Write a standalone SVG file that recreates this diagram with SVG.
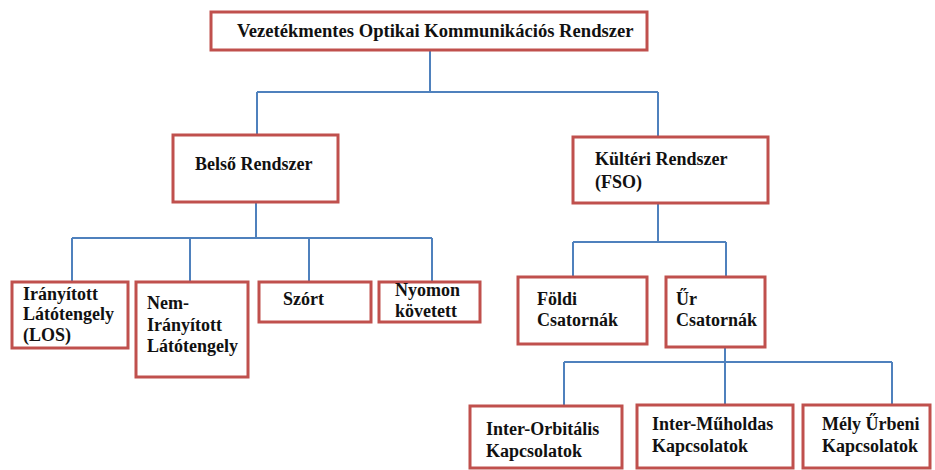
<svg xmlns="http://www.w3.org/2000/svg" width="935" height="470" viewBox="0 0 935 470">
<style>
.box{fill:#fff;stroke:#c0504d;stroke-width:3}
.t{font-family:'Liberation Serif','Tinos','DejaVu Serif',serif;font-weight:700;font-size:18px;fill:#111}
.c{fill:none;stroke:#4f81bd;stroke-width:2}
</style>
<rect width="935" height="470" fill="#fff"/>
<g id="connectors">
<path class="c" d="M430,50V92M257,92H658M257,92V135M658,92V137"/>
<path class="c" d="M256,202V238M72,238H432M72,238V282M190,238V282M309,238V282M432,238V282"/>
<path class="c" d="M658,203V242M573,242H726M573,242V277M726,242V277"/>
<path class="c" d="M725,347V362M564,362H892M564,362V406M725,362V405M892,362V405"/>
</g>
<g id="root"><rect class="box" x="211" y="12" width="436" height="38"/><text class="t" x="237" y="37" style="font-size:18.6px">Vezetékmentes Optikai Kommunikációs Rendszer</text></g>
<g id="belso"><rect class="box" x="173" y="135" width="165" height="67"/><text class="t" x="195" y="170">Belső Rendszer</text></g>
<g id="kulteri"><rect class="box" x="573" y="137" width="195" height="66"/><text class="t" x="595" y="165">Kültéri Rendszer</text><text class="t" x="595" y="188">(FSO)</text></g>
<g id="iranyitott"><rect class="box" x="12" y="282" width="116" height="66"/><text class="t" x="23" y="300">Irányított</text><text class="t" x="23" y="320">Látótengely</text><text class="t" x="23" y="341">(LOS)</text></g>
<g id="nem-iranyitott"><rect class="box" x="136" y="282" width="112" height="95"/><text class="t" x="147" y="309">Nem-</text><text class="t" x="147" y="331">Irányított</text><text class="t" x="147" y="352">Látótengely</text></g>
<g id="szort"><rect class="box" x="259" y="282" width="112" height="40"/><text class="t" x="283" y="305">Szórt</text></g>
<g id="nyomon"><rect class="box" x="379" y="282" width="101" height="40"/><text class="t" x="395" y="296">Nyomon</text><text class="t" x="395" y="317">követett</text></g>
<g id="foldi"><rect class="box" x="518" y="277" width="129" height="67"/><text class="t" x="537" y="305">Földi</text><text class="t" x="537" y="326">Csatornák</text></g>
<g id="ur"><rect class="box" x="666" y="277" width="99" height="70"/><text class="t" x="676" y="305">Űr</text><text class="t" x="676" y="326">Csatornák</text></g>
<g id="inter-orbitalis"><rect class="box" x="470" y="406" width="152" height="62"/><text class="t" x="486" y="435">Inter-Orbitális</text><text class="t" x="486" y="457">Kapcsolatok</text></g>
<g id="inter-muholdas"><rect class="box" x="637" y="405" width="156" height="63"/><text class="t" x="652" y="430">Inter-Műholdas</text><text class="t" x="652" y="452">Kapcsolatok</text></g>
<g id="mely-urbeni"><rect class="box" x="803" y="405" width="127" height="63"/><text class="t" x="822" y="430">Mély Űrbeni</text><text class="t" x="822" y="452">Kapcsolatok</text></g>
</svg>
